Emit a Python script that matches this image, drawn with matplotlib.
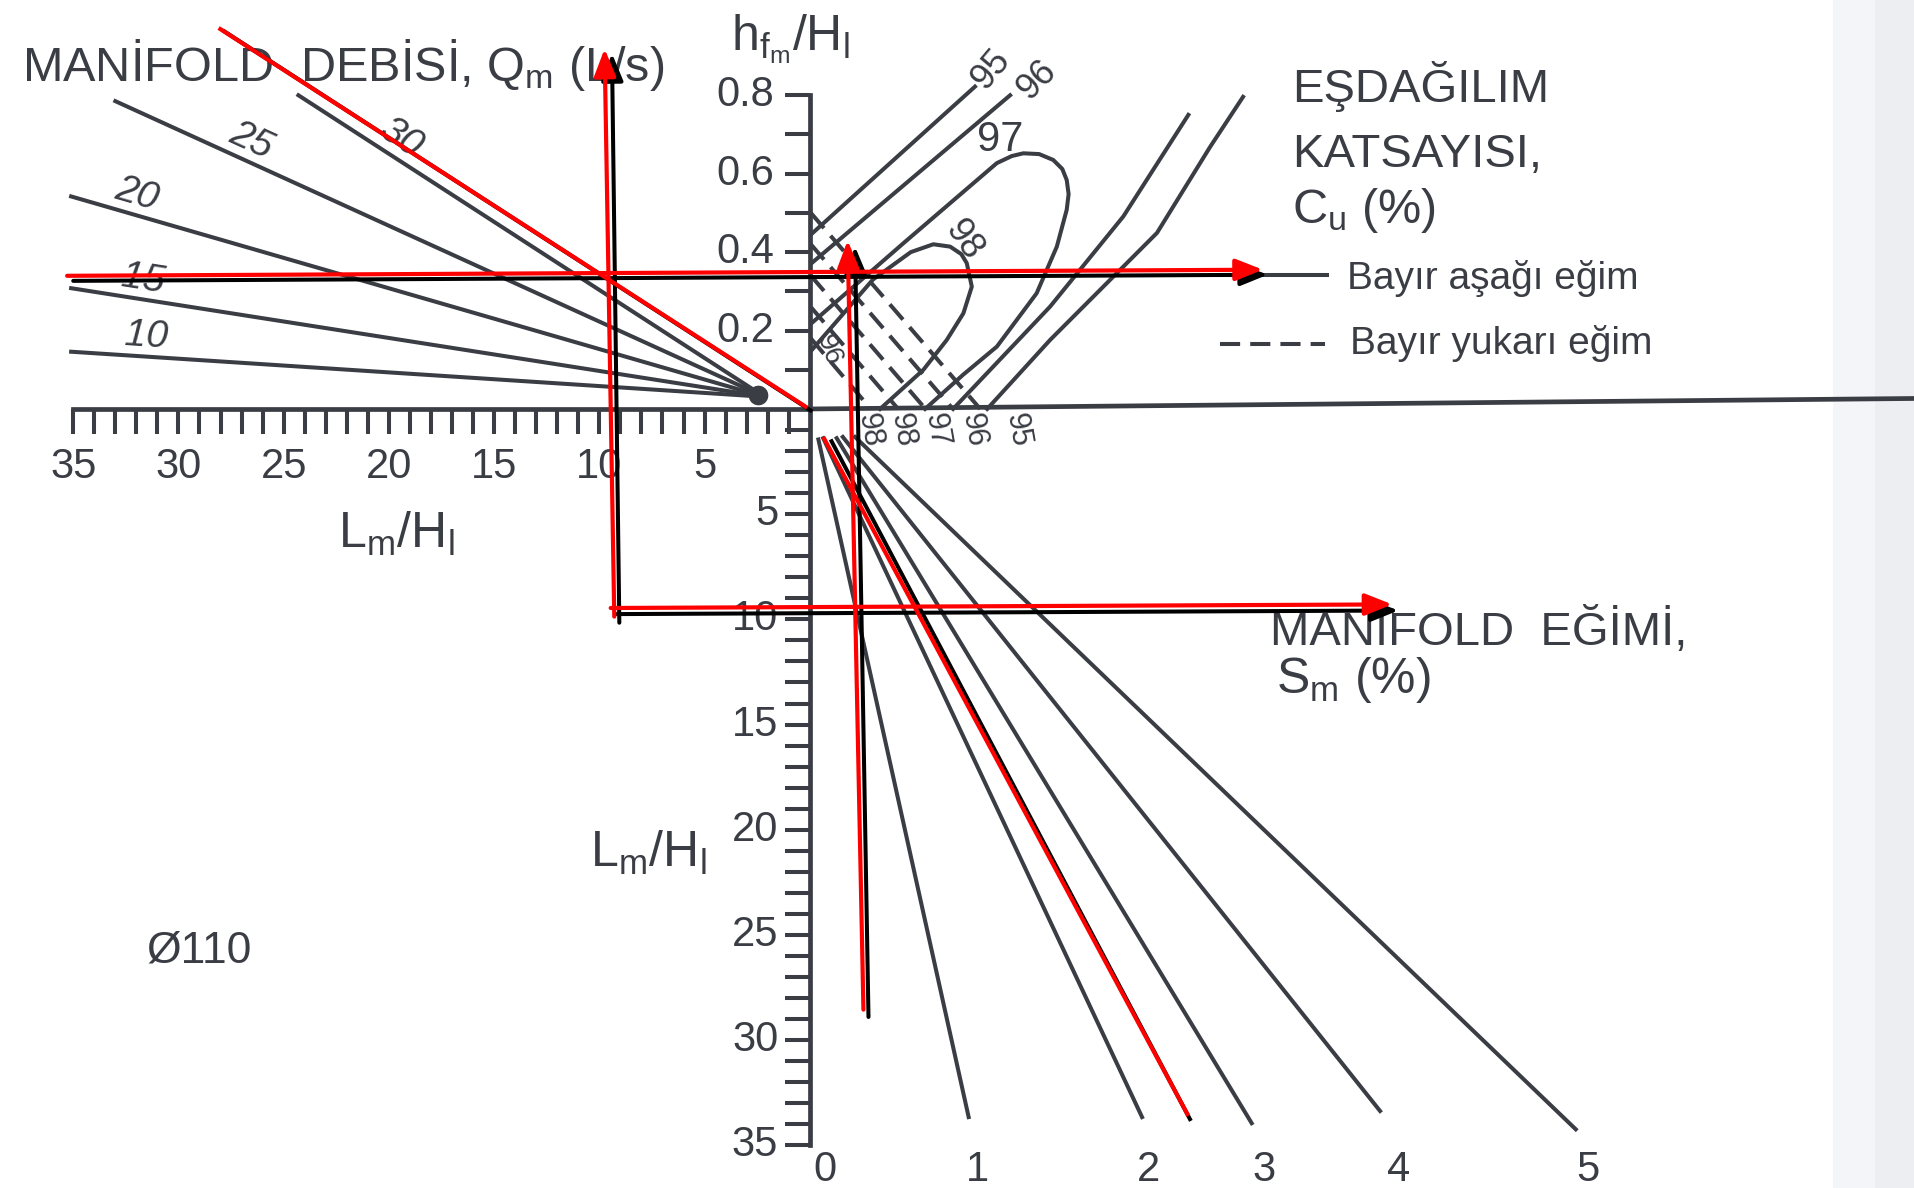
import numpy as np
import matplotlib
matplotlib.use("Agg")
import matplotlib.pyplot as plt
from matplotlib import font_manager as fm

# ---------------- fonts ----------------
_names = {f.name for f in fm.fontManager.ttflist}
FONT = next((n for n in ["Liberation Sans Narrow", "Liberation Sans", "DejaVu Sans"] if n in _names), "DejaVu Sans")
plt.rcParams["font.family"] = [FONT, "DejaVu Sans"]
plt.rcParams["mathtext.fontset"] = "custom"
plt.rcParams["mathtext.rm"] = FONT
plt.rcParams["mathtext.it"] = FONT
plt.rcParams["mathtext.bf"] = FONT

# ---------------- data ----------------
# scales
L_left_ticks = list(range(1, 36))
L_left_labels = [35, 30, 25, 20, 15, 10, 5]
h_ticks = [0.1, 0.2, 0.3, 0.4, 0.5, 0.6, 0.7, 0.8]
h_labels = [0.8, 0.6, 0.4, 0.2]
L_down_ticks = list(range(1, 36))
L_down_labels = [5, 10, 15, 20, 25, 30, 35]

# manifold flow lines Q_m (L/s): left end in (L_m/H_l, h_fm/H_l), all meet at the focus
q_values = [10, 15, 20, 25, 30]
q_start_L = [35.1, 35.1, 35.1, 33.0, 24.3]
q_start_h = [0.146, 0.308, 0.542, 0.785, 0.800]
q_focus_L, q_focus_h = 2.15, 0.031

# manifold slope lines S_m (%): (offset, L_m/H_l) at top and bottom ends
s_values = [1, 2, 3, 4, 5]
s_top_u = [0.41, 0.64, 1.28, 1.57, 2.15]
s_top_L = [1.45, 1.39, 1.39, 1.33, 1.33]
s_end_u = [7.55, 15.79, 21.0, 27.1, 36.4]
s_end_L = [33.66, 33.66, 33.95, 33.37, 34.24]
s_label_text = ["0", "1", "2", "3", "4", "5"]
s_label_u = [0.70, 7.95, 16.08, 21.6, 27.97, 36.97]

# uniformity coefficient Cu (%) curves: (offset, h_fm/H_l)
cu95_u = [0.12, 7.85]
cu95_h = [0.448, 0.822]
cu96_u = [0.09, 9.52]
cu96_h = [0.372, 0.800]
cu97_u = [0.09, 4.5, 8.89, 9.6, 10.15, 10.9, 11.57, 12.0, 12.21, 12.3, 12.21, 11.74, 10.78, 8.89, 7.28, 5.48]
cu97_h = [0.219, 0.425, 0.627, 0.645, 0.652, 0.650, 0.635, 0.612, 0.584, 0.548, 0.508, 0.414, 0.295, 0.159, 0.087, 0.0]
cu98_u = [0.09, 3.0, 4.8, 5.87, 6.67, 7.2, 7.46, 7.70, 7.30, 6.51, 5.40, 3.34]
cu98_h = [0.150, 0.330, 0.400, 0.420, 0.414, 0.395, 0.372, 0.312, 0.244, 0.176, 0.100, 0.0]
cuA_u = [6.81, 11.42, 14.9, 17.99]
cuA_h = [0.0, 0.261, 0.491, 0.750]
cuB_u = [8.43, 11.42, 16.5, 19.02, 20.59]
cuB_h = [0.0, 0.176, 0.449, 0.668, 0.796]
# uphill (dashed) lines: start on the h axis, foot on the horizontal axis
up_start_h = [0.50, 0.42, 0.34, 0.26, 0.18]
up_foot_u = [8.1, 6.8, 5.5, 4.2, 2.9]
cu_foot_labels = ["98", "98", "97", "96", "95"]
cu_foot_u = [2.84, 4.41, 6.04, 7.78, 9.87]

# worked-example construction lines (red and its black copy): (x0, y0, x1, y1, arrow)
red_path = [(-28.09, 18.11, -0.12, 0.06, False),
            (-9.29, -9.87, -9.75, 17.12, True),
            (-35.29, 6.33, 21.53, 6.62, True),
            (2.55, -28.55, 1.80, 8.01, True),
            (-9.46, -9.46, 27.68, -9.29, True),
            (0.64, -1.33, 17.99, -33.60, False)]
black_path = [(-27.9, 18.0, 0.12, -0.12, False),
              (-9.05, -10.16, -9.40, 16.9, True),
              (-35.0, 6.09, 21.76, 6.38, True),
              (2.79, -28.90, 2.15, 7.72, True),
              (-9.17, -9.75, 27.97, -9.58, True),
              (0.99, -1.45, 18.11, -33.84, False)]

# ---------------- drawing ----------------
HK = 18.64          # plot units per unit of h_fm/H_l
INK = "#3a3d44"
LW = 2.9


def hy(h):
    return np.asarray(h, dtype=float) * HK


fig = plt.figure(figsize=(19.15, 11.88), dpi=100, facecolor="white")
ax = fig.add_axes([0, 0, 1, 1])
ax.set_xlim(-38.48, 52.52)
ax.set_ylim(-37.03, 19.44)
ax.axis("off")

# paper edge shading on the right
ax.axvspan(48.6, 52.6, color="#f4f5f8", zorder=0, lw=0)
ax.axvspan(50.6, 52.6, color="#eceef2", zorder=0, lw=0)

kw = dict(color=INK, lw=LW, solid_capstyle="butt", zorder=2)
TL = 1.2
AXW = 3.4
# axes
ax.plot([-35, 0], [0, 0], color=INK, lw=AXW, zorder=2)
ax.plot([0, 52.6], [0, 0.5], color=INK, lw=AXW, zorder=2)
ax.plot([0, 0], [0, hy(0.8)], color=INK, lw=AXW, zorder=2)
ax.plot([0, 0], [0, -35], color=INK, lw=AXW, zorder=2)
for L in L_left_ticks:
    ax.plot([-L, -L], [0, -TL], **kw)
for h in h_ticks:
    ax.plot([-TL, 0], [hy(h), hy(h)], **kw)
for L in L_down_ticks:
    ax.plot([-TL, 0], [-L, -L], **kw)

TS = 30
for L in L_left_labels:
    ax.text(-L, -2.75, str(L), ha="center", va="center", fontsize=TS, color=INK)
for h in h_labels:
    ax.text(-1.7, hy(h), f"{h:.1f}", ha="right", va="center", fontsize=TS, color=INK)
for L in L_down_labels:
    ax.text(-1.5, -L, str(L), ha="right", va="center", fontsize=TS, color=INK)

# Q lines
qlab_dx = [3.5, 3.3, 2.9, 6.1, 4.4]
for Q, L0, h0, dx in zip(q_values, q_start_L, q_start_h, qlab_dx):
    x0, y0 = -L0, float(hy(h0))
    x1, y1 = -q_focus_L, float(hy(q_focus_h))
    ax.plot([x0, x1], [y0, y1], color=INK, lw=LW, zorder=2)
    ang = np.degrees(np.arctan2(y1 - y0, x1 - x0))
    t = dx / (x1 - x0)
    ax.text(x0 + dx, y0 + t * (y1 - y0) + 0.1, str(Q), rotation=ang, rotation_mode="anchor",
            ha="center", va="bottom", fontsize=28, color=INK, style="italic")
ax.scatter([-q_focus_L - 0.3], [hy(q_focus_h) + 0.1], s=200, color=INK, zorder=2, lw=0)

# S lines
for u0, L0, u1, L1 in zip(s_top_u, s_top_L, s_end_u, s_end_L):
    ax.plot([u0, u1], [-L0, -L1], color=INK, lw=LW, zorder=2)
for txt, u in zip(s_label_text, s_label_u):
    ax.text(u, -36.16, txt, ha="center", va="center", fontsize=TS, color=INK)

# Cu curves
for uu, hh in [(cu95_u, cu95_h), (cu96_u, cu96_h), (cu97_u, cu97_h),
               (cu98_u, cu98_h), (cuA_u, cuA_h), (cuB_u, cuB_h)]:
    ax.plot(uu, hy(hh), color=INK, lw=LW, zorder=2, solid_joinstyle="round")
for h0, uf in zip(up_start_h, up_foot_u):
    ax.plot([0.05, uf], [hy(h0), 0], color=INK, lw=LW, zorder=2, linestyle=(0, (5.0, 2.5)))
ax.text(8.59, 16.13, "95", rotation=50, ha="center", va="center", fontsize=26, color=INK)
ax.text(10.8, 15.64, "96", rotation=45, ha="center", va="center", fontsize=26, color=INK)
ax.text(9.05, 12.77, "97", rotation=0, ha="center", va="center", fontsize=30, color=INK)
ax.text(7.31, 8.01, "98", rotation=-55, ha="center", va="center", fontsize=26, color=INK)
ax.text(0.9, 2.8, "96", rotation=-70, ha="center", va="center", fontsize=20, color=INK)
for txt, u in zip(cu_foot_labels, cu_foot_u):
    ax.text(u, -1.0, txt, rotation=-80, ha="center", va="center", fontsize=22, color=INK)

# titles and axis names
ax.text(-37.43, 15.61, r"MANİFOLD  DEBİSİ, Q$_\mathrm{m}$ (L/s)", fontsize=35, color=INK,
        ha="left", va="baseline")
ax.text(-3.75, 17.06, r"h$_{\mathrm{f}_\mathrm{m}}$/H$_\mathrm{l}$", fontsize=36, color=INK,
        ha="left", va="baseline")
ax.text(22.93, 14.57, "EŞDAĞILIM", fontsize=34, color=INK, ha="left", va="baseline")
ax.text(22.93, 11.49, "KATSAYISI,", fontsize=34, color=INK, ha="left", va="baseline")
ax.text(22.93, 8.82, r"C$_\mathrm{u}$ (%)", fontsize=35, color=INK, ha="left", va="baseline")
ax.plot([19.5, 24.6], [6.38, 6.38], color=INK, lw=LW, zorder=2)
ax.text(25.54, 6.21, "Bayır aşağı eğim", fontsize=28, color=INK, ha="left", va="center")
ax.plot([19.5, 24.5], [3.08, 3.08], color=INK, lw=LW, zorder=2, linestyle=(0, (5.0, 2.5)))
ax.text(25.65, 3.13, "Bayır yukarı eğim", fontsize=28, color=INK, ha="left", va="center")
ax.text(-22.4, -6.62, r"L$_\mathrm{m}$/H$_\mathrm{l}$", fontsize=36, color=INK, ha="left", va="baseline")
ax.text(-10.45, -21.76, r"L$_\mathrm{m}$/H$_\mathrm{l}$", fontsize=36, color=INK, ha="left", va="baseline")
ax.text(-31.5, -26.29, "Ø110", fontsize=32, color=INK, ha="left", va="baseline")
ax.text(21.88, -11.2, "MANİFOLD  EĞİMİ,", fontsize=34, color=INK, ha="left", va="baseline")
ax.text(22.17, -13.52, r"S$_\mathrm{m}$ (%)", fontsize=36, color=INK, ha="left", va="baseline")


# construction lines
def draw_path(path, color, lw, z):
    for x0, y0, x1, y1, arrow in path:
        if arrow:
            ax.annotate("", xy=(x1, y1), xytext=(x0, y0), zorder=z,
                        arrowprops=dict(arrowstyle="-|>,head_length=0.55,head_width=0.22",
                                        color=color, lw=lw, shrinkA=0, shrinkB=0,
                                        mutation_scale=30))
        else:
            ax.plot([x0, x1], [y0, y1], color=color, lw=lw, zorder=z, solid_capstyle="butt")


draw_path(black_path, "#000000", 2.9, 4)
draw_path(red_path, "#ff0000", 3.0, 5)

fig.savefig("out.png", dpi=100, facecolor="white")
